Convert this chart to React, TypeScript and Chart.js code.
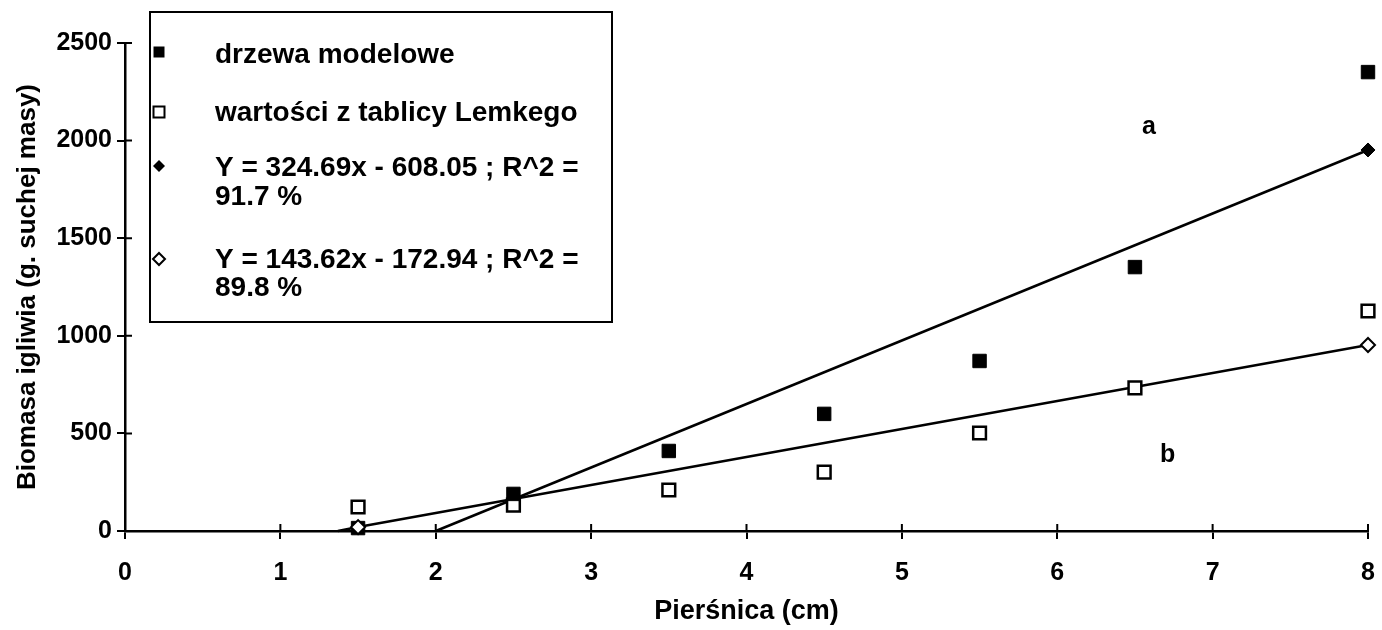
import React, { useEffect, useRef } from "react";
import { Chart, registerables } from "chart.js";

Chart.register(...registerables);

// ---- data ----
const xModel = [1.5, 2.5, 3.5, 4.5, 5.5, 6.5, 8];
const yModel = [15, 190, 410, 600, 871, 1352, 2351];

const xLemke = [1.5, 2.5, 3.5, 4.5, 5.5, 6.5, 8];
const yLemke = [123, 133, 210, 302, 502, 733, 1127];

// fitted line a (drzewa modelowe)
const xLineA = [2, 8, 8.09];
const yLineA = [0, 1952, 1981];
// fitted line b (Lemke)
const xLineB = [1.37, 1.5, 8, 8.09];
const yLineB = [0, 20, 953, 966];

// fitted-value markers
const xFitA = [8];
const yFitA = [1952];
const xFitB = [1.5, 8];
const yFitB = [20, 953];

const xTickValues = [0, 1, 2, 3, 4, 5, 6, 7, 8];
const yTickValues = [0, 500, 1000, 1500, 2000, 2500];

const xTitle = "Pierśnica (cm)";
const yTitle = "Biomasa igliwia (g. suchej masy)";

const legendLines = [
  ["drzewa modelowe"],
  ["wartości z tablicy Lemkego"],
  ["Y = 324.69x - 608.05 ; R^2 =", "91.7 %"],
  ["Y = 143.62x - 172.94 ; R^2 =", "89.8 %"],
];
const legendMarkers = ["filledSquare", "openSquare", "filledDiamond", "openDiamond"];

const curveLabels = ["a", "b"];
const curveLabelX = [6.59, 6.71];
const curveLabelY = [2070, 389];

const FONT = "'Liberation Sans', Arial, sans-serif";

const toPts = (xs: number[], ys: number[]) => xs.map((x, i) => ({ x, y: ys[i] }));

export default function App() {
  const ref = useRef<HTMLCanvasElement | null>(null);

  useEffect(() => {
    document.body.style.margin = "0";
    const canvas = ref.current;
    if (!canvas) return;

    const decorPlugin = {
      id: "decor",
      afterDraw(chart: any) {
        const ctx = chart.ctx;
        const xs = chart.scales.x;
        const ys = chart.scales.y;
        const area = chart.chartArea;
        ctx.save();
        // inner tick marks (ticks cross the axes)
        ctx.strokeStyle = "#000";
        ctx.lineWidth = 2;
        ctx.beginPath();
        xTickValues.forEach((v) => {
          const px = xs.getPixelForValue(v);
          ctx.moveTo(px, area.bottom);
          ctx.lineTo(px, area.bottom - 7);
        });
        yTickValues.forEach((v) => {
          const py = ys.getPixelForValue(v);
          ctx.moveTo(area.left, py);
          ctx.lineTo(area.left + 7, py);
        });
        ctx.stroke();

        // curve labels
        ctx.fillStyle = "#000";
        ctx.font = `bold 25px ${FONT}`;
        ctx.textAlign = "center";
        ctx.textBaseline = "middle";
        curveLabels.forEach((t, i) => {
          ctx.fillText(t, xs.getPixelForValue(curveLabelX[i]), ys.getPixelForValue(curveLabelY[i]));
        });

        // legend box
        const bx = area.left + 25;
        const by = 12;
        const bw = 462;
        const bh = 310;
        ctx.fillStyle = "#fff";
        ctx.fillRect(bx, by, bw, bh);
        ctx.strokeStyle = "#000";
        ctx.lineWidth = 2;
        ctx.strokeRect(bx, by, bw, bh);

        const rowY = [[55], [113], [168, 197], [260, 288]];
        const markY = [52, 112, 166, 259];
        const mx = bx + 9;
        legendMarkers.forEach((m, i) => {
          const my = markY[i];
          ctx.beginPath();
          if (m.endsWith("Square")) {
            ctx.rect(mx - 5.5, my - 5.5, 11, 11);
          } else {
            ctx.moveTo(mx, my - 6);
            ctx.lineTo(mx + 6, my);
            ctx.lineTo(mx, my + 6);
            ctx.lineTo(mx - 6, my);
            ctx.closePath();
          }
          if (m.startsWith("filled")) {
            ctx.fillStyle = "#000";
            ctx.fill();
          } else {
            ctx.fillStyle = "#fff";
            ctx.fill();
            ctx.lineWidth = 2;
            ctx.stroke();
          }
        });
        ctx.fillStyle = "#000";
        ctx.font = `bold 28px ${FONT}`;
        ctx.textAlign = "left";
        ctx.textBaseline = "middle";
        legendLines.forEach((lines, i) => {
          lines.forEach((t, j) => ctx.fillText(t, bx + 65, rowY[i][j]));
        });
        ctx.restore();
      },
    };

    const chart = new Chart(canvas, {
      type: "scatter",
      data: {
        datasets: [
          {
            label: "fitB",
            data: toPts(xFitB, yFitB),
            pointStyle: "rectRot",
            pointRadius: 7,
            backgroundColor: "#fff",
            borderColor: "#000",
            borderWidth: 2,
            clip: false,
            order: 0,
          },
          {
            label: "fitA",
            data: toPts(xFitA, yFitA),
            pointStyle: "rectRot",
            pointRadius: 7,
            backgroundColor: "#000",
            borderColor: "#000",
            borderWidth: 1,
            clip: false,
            order: 1,
          },
          {
            label: "drzewa modelowe",
            data: toPts(xModel, yModel),
            pointStyle: "rect",
            pointRadius: 9.5,
            backgroundColor: "#000",
            borderColor: "#000",
            borderWidth: 1,
            clip: false,
            order: 2,
          },
          {
            label: "wartości z tablicy Lemkego",
            data: toPts(xLemke, yLemke),
            pointStyle: "rect",
            pointRadius: 9,
            backgroundColor: "#fff",
            borderColor: "#000",
            borderWidth: 2.5,
            clip: false,
            order: 3,
          },
          {
            label: "lineA",
            type: "line",
            data: toPts(xLineA, yLineA),
            showLine: true,
            pointRadius: 0,
            borderColor: "#000",
            borderWidth: 2.5,
            fill: false,
            clip: false,
            order: 4,
          } as any,
          {
            label: "lineB",
            type: "line",
            data: toPts(xLineB, yLineB),
            showLine: true,
            pointRadius: 0,
            borderColor: "#000",
            borderWidth: 2.5,
            fill: false,
            clip: false,
            order: 5,
          } as any,
        ],
      },
      options: {
        animation: false,
        responsive: false,
        devicePixelRatio: 1,
        layout: { autoPadding: false, padding: { top: 43, right: 14, left: 0, bottom: 0 } },
        plugins: {
          legend: { display: false },
          tooltip: { enabled: false },
        },
        scales: {
          x: {
            type: "linear",
            min: 0,
            max: 8,
            afterFit: (s: any) => {
              s.height = 99;
              s.paddingRight = 0;
            },
            afterBuildTicks: (s: any) => {
              s.ticks = xTickValues.map((v) => ({ value: v }));
            },
            ticks: {
              color: "#000",
              font: { family: FONT, size: 25, weight: "bold" },
              padding: 19,
              maxRotation: 0,
              callback: (v: any) => String(v),
            },
            grid: {
              drawOnChartArea: false,
              drawTicks: true,
              tickLength: 8,
              color: "#000",
              lineWidth: 2,
            },
            border: { display: true, color: "#000", width: 2.5 },
            title: {
              display: true,
              text: xTitle,
              color: "#000",
              font: { family: FONT, size: 27, weight: "bold" },
              padding: { top: 0, bottom: 2 },
            },
          },
          y: {
            type: "linear",
            min: 0,
            max: 2500,
            afterFit: (s: any) => {
              s.width = 125;
            },
            afterBuildTicks: (s: any) => {
              s.ticks = yTickValues.map((v) => ({ value: v }));
            },
            ticks: {
              color: "#000",
              font: { family: FONT, size: 25, weight: "bold" },
              padding: 5,
              callback: (v: any) => String(v),
            },
            grid: {
              drawOnChartArea: false,
              drawTicks: true,
              tickLength: 8,
              color: "#000",
              lineWidth: 2,
            },
            border: { display: true, color: "#000", width: 2.5 },
            title: {
              display: true,
              text: yTitle,
              color: "#000",
              font: { family: FONT, size: 26, weight: "bold" },
              padding: { top: 12, bottom: 0 },
            },
          },
        },
      },
      plugins: [decorPlugin],
    } as any);

    return () => chart.destroy();
  }, []);

  return (
    <div style={{ width: 1382, height: 630, background: "#fff" }}>
      <canvas ref={ref} width={1382} height={630} style={{ display: "block" }} />
    </div>
  );
}
